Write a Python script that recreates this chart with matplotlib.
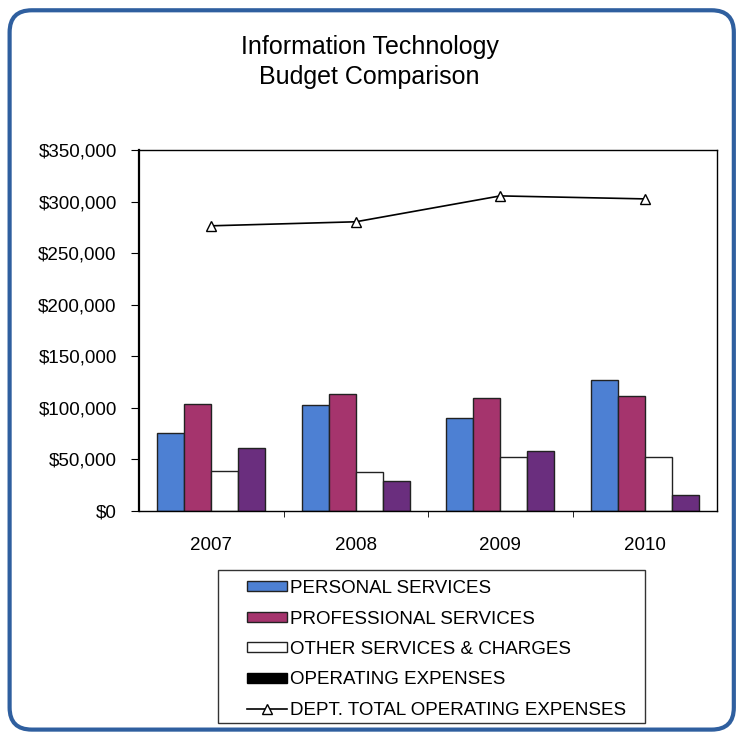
import matplotlib
matplotlib.use("Agg")
import matplotlib.pyplot as plt
from matplotlib.patches import FancyBboxPatch, Patch, Rectangle
from matplotlib.lines import Line2D
from matplotlib.ticker import FuncFormatter, FixedLocator

plt.rcParams['font.family'] = ['Liberation Sans', 'DejaVu Sans']

years = ['2007', '2008', '2009', '2010']
personal = [75700, 102500, 90200, 126700]
professional = [104100, 113800, 109600, 111500]
other = [38700, 38000, 52500, 52500]
operating = [61200, 29300, 58500, 15500]
dept_total = [276500, 280400, 305500, 302600]

W, H = 739, 734
fig = plt.figure(figsize=(W/100, H/100), dpi=100)

# rounded blue frame around the whole chart
frame = FancyBboxPatch((0.013, 0.006), 0.98, 0.98,
                       boxstyle="round,pad=0,rounding_size=0.03",
                       transform=fig.transFigure, facecolor='none',
                       edgecolor='#2f5f9f', linewidth=3.0, zorder=-1)
fig.patches.append(frame)

fig.text(0.5, 1 - 62/H, "Information Technology\nBudget Comparison",
         ha='center', va='center', fontsize=18, linespacing=1.3)

ax = fig.add_axes([139/W, 1 - 511/H, 578/W, 361/H])

w = 0.187
x = list(range(len(years)))
ax.bar([i - 1.5*w for i in x], personal, w, color='#4d80d3', edgecolor='#222222', linewidth=1.0)
ax.bar([i - 0.5*w for i in x], professional, w, color='#a5346d', edgecolor='#222222', linewidth=1.0)
ax.bar([i + 0.5*w for i in x], other, w, color='white', edgecolor='#222222', linewidth=1.0)
ax.bar([i + 1.5*w for i in x], operating, w, color='#6a2e7e', edgecolor='#222222', linewidth=1.0)
ax.plot(x, dept_total, color='black', linewidth=1.2, marker='^',
        markersize=7, markerfacecolor='white', markeredgecolor='black')

ax.set_xlim(-0.5, 3.5)
ax.set_ylim(0, 350000)
ax.set_yticks(range(0, 350001, 50000))
ax.yaxis.set_major_formatter(FuncFormatter(lambda v, p: "${:,.0f}".format(v)))
ax.set_xticks(x)
ax.set_xticklabels(years)
ax.xaxis.set_minor_locator(FixedLocator([0.5, 1.5, 2.5]))
ax.tick_params(axis='x', which='major', length=0, pad=19, labelsize=13.5)
ax.tick_params(axis='x', which='minor', length=4, direction='out')
ax.tick_params(axis='y', length=6, direction='out', labelsize=13.5, pad=10)
for s in ax.spines.values():
    s.set_linewidth(1.0)
ax.spines['left'].set_linewidth(1.6)

handles = [
    Patch(facecolor='#4d80d3', edgecolor='#222222', label='PERSONAL SERVICES'),
    Patch(facecolor='#a5346d', edgecolor='#222222', label='PROFESSIONAL SERVICES'),
    Patch(facecolor='white', edgecolor='#222222', label='OTHER SERVICES & CHARGES'),
    Patch(facecolor='black', edgecolor='black', label='OPERATING EXPENSES'),
    Line2D([], [], color='black', linewidth=1.2, marker='^', markersize=7,
           markerfacecolor='white', markeredgecolor='black',
           label='DEPT. TOTAL OPERATING EXPENSES'),
]
leg = fig.legend(handles=handles, loc='upper left',
                 bbox_to_anchor=(247/W, 1 - 580/H),
                 fontsize=13.5, frameon=False, handlelength=2.15,
                 handleheight=0.45, handletextpad=0.15, labelspacing=0.72,
                 borderaxespad=0, borderpad=0)

# legend box drawn separately so the entries can sit inset from it
fig.patches.append(Rectangle((218/W, 1 - 723/H), 427/W, 153/H,
                             transform=fig.transFigure, facecolor='none',
                             edgecolor='#333333', linewidth=1.0))

fig.savefig("out.png", dpi=100)
